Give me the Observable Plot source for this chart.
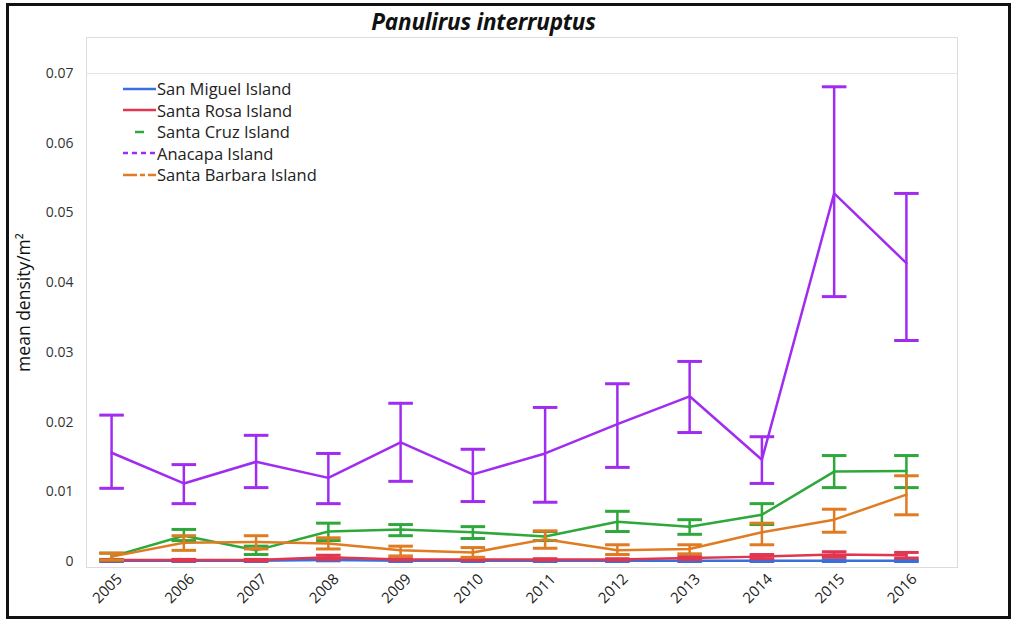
<!DOCTYPE html>
<html><head><meta charset="utf-8">
<script src="https://cdn.jsdelivr.net/npm/d3@7"></script>
<script src="https://cdn.jsdelivr.net/npm/@observablehq/plot@0.6"></script>
<style>
body{margin:0;background:#fff;}
#wrap{position:relative;width:1013px;height:621px;overflow:hidden;background:#fff;}
#border{position:absolute;left:6px;top:3px;width:1005px;height:616px;border:3px solid #111;box-sizing:border-box;pointer-events:none;}
#title{position:absolute;left:0;top:6px;width:967px;text-align:center;font:italic bold 22.5px "Open Sans",sans-serif;color:#111;letter-spacing:-0.2px;}
#legend{position:absolute;left:120px;top:78px;font:16.5px "Open Sans",sans-serif;color:#222;}
#legend .row{height:21.5px;display:flex;align-items:center;}
#legend svg{width:37px;height:10px;flex:none;}
</style></head>
<body>
<div id="wrap">
  <div id="chart"></div>
  <div id="title">Panulirus interruptus</div>
  <div id="legend"></div>
  <div id="border"></div>
</div>
<script>
const years = [2005,2006,2007,2008,2009,2010,2011,2012,2013,2014,2015,2016];
const islands = ["San Miguel Island","Santa Rosa Island","Santa Cruz Island","Anacapa Island","Santa Barbara Island"];
const colors = ["#3b6fdc","#e0364f","#2ea83a","#a02cf0","#e07b22"];
const legendDash = ["none","none","none","5,4","14,3,5,3"];
const yTicks = [0,0.01,0.02,0.03,0.04,0.05,0.06,0.07];

const sanMiguelMean = [0.0001,0.0001,0.0001,0.0002,0.0001,0.0001,0.0001,0.0001,0.0001,0.0001,0.0001,0.0001];
const sanMiguelLow  = [0,0,0,0.0001,0,0,0,0,0,0,0,0];
const sanMiguelHigh = [0.0002,0.0002,0.0002,0.0003,0.0002,0.0002,0.0002,0.0002,0.0002,0.0002,0.0002,0.0002];

const santaRosaMean = [0.0002,0.0002,0.0002,0.0006,0.0003,0.0003,0.0003,0.0003,0.0005,0.0007,0.0010,0.0009];
const santaRosaLow  = [0.0001,0.0001,0.0001,0.0003,0.0002,0.0002,0.0002,0.0002,0.0003,0.0004,0.0006,0.0005];
const santaRosaHigh = [0.0003,0.0003,0.0003,0.0009,0.0004,0.0004,0.0004,0.0004,0.0007,0.0010,0.0014,0.0013];

const santaCruzMean = [0.0007,0.0037,0.0016,0.0043,0.0046,0.0042,0.0036,0.0057,0.0050,0.0067,0.0129,0.0130];
const santaCruzLow  = [0.0002,0.0030,0.0010,0.0030,0.0037,0.0033,0.0030,0.0043,0.0039,0.0053,0.0106,0.0106];
const santaCruzHigh = [0.0012,0.0046,0.0022,0.0055,0.0053,0.0050,0.0043,0.0072,0.0060,0.0083,0.0152,0.0152];

const anacapaMean = [0.0156,0.0112,0.0143,0.0120,0.0171,0.0125,0.0155,0.0197,0.0237,0.0146,0.0528,0.0428];
const anacapaLow  = [0.0105,0.0083,0.0106,0.0083,0.0115,0.0086,0.0085,0.0135,0.0185,0.0112,0.0380,0.0317];
const anacapaHigh = [0.0210,0.0139,0.0181,0.0155,0.0227,0.0161,0.0221,0.0255,0.0287,0.0179,0.0681,0.0528];

const santaBarbaraMean = [0.0007,0.0027,0.0028,0.0026,0.0016,0.0013,0.0032,0.0016,0.0018,0.0042,0.0060,0.0096];
const santaBarbaraLow  = [0.0002,0.0016,0.0018,0.0018,0.0008,0.0006,0.0019,0.0010,0.0011,0.0024,0.0042,0.0067];
const santaBarbaraHigh = [0.0012,0.0037,0.0037,0.0034,0.0022,0.0020,0.0044,0.0024,0.0024,0.0055,0.0075,0.0123];

const series = [
  [sanMiguelMean, sanMiguelLow, sanMiguelHigh],
  [santaRosaMean, santaRosaLow, santaRosaHigh],
  [santaCruzMean, santaCruzLow, santaCruzHigh],
  [anacapaMean, anacapaLow, anacapaHigh],
  [santaBarbaraMean, santaBarbaraLow, santaBarbaraHigh]
];

const capHalf = 0.17; // half cap width in years
const marks = [
  Plot.frame({stroke:"#dcdcdc"}),
  Plot.ruleY([0.07],{stroke:"#e4e4e4"}),
  Plot.axisX({ticks:years, tickFormat:d=>String(d), tickRotate:-45, tickSize:0, tickPadding:5, dx:8, dy:4, label:null, fontSize:15, fill:"#222"}),
  Plot.axisY({ticks:yTicks, tickFormat:d=>d===0?"0":d.toFixed(2), tickSize:0, tickPadding:13, label:"mean density/m²", labelAnchor:"center", labelOffset:69, labelArrow:"none", fontSize:14, fill:"#333"})
];
islands.forEach((name,i)=>{
  const [m,lo,hi] = series[i];
  const rows = years.map((y,j)=>({island:name, year:y, mean:m[j], low:lo[j], high:hi[j]}));
  marks.push(
    Plot.ruleX(rows,{x:"year", y1:"low", y2:"high", stroke:"island", strokeWidth:2.5}),
    Plot.link(rows,{x1:d=>d.year-capHalf, x2:d=>d.year+capHalf, y1:"low", y2:"low", stroke:"island", strokeWidth:3}),
    Plot.link(rows,{x1:d=>d.year-capHalf, x2:d=>d.year+capHalf, y1:"high", y2:"high", stroke:"island", strokeWidth:3}),
    Plot.lineY(rows,{x:"year", y:"mean", stroke:"island", strokeWidth:2.5})
  );
});

const plot = Plot.plot({
  width:1013, height:621,
  marginLeft:86, marginRight:56, marginTop:37, marginBottom:54,
  style:{fontFamily:"Open Sans, sans-serif", fontSize:"14px", color:"#333", background:"#fff"},
  x:{type:"linear", domain:[2004.653,2016.707]},
  y:{domain:[-0.00086,0.07517]},
  color:{domain:islands, range:colors},
  marks
});
document.getElementById("chart").appendChild(plot);
// make y-axis label larger
plot.querySelectorAll("g[aria-label='y-axis label'] text").forEach(t=>{t.style.fontSize="17.5px"; t.setAttribute("fill","#111");});

const leg = document.getElementById("legend");
islands.forEach((name,i)=>{
  const row = document.createElement("div");
  row.className="row";
  const x1 = i===2 ? 15 : 3, x2 = i===2 ? 24 : 36;
  row.innerHTML = `<svg viewBox="0 0 37 10"><line x1="${x1}" y1="5" x2="${x2}" y2="5" stroke="${colors[i]}" stroke-width="2.5" stroke-dasharray="${legendDash[i]}"/></svg><span>${name}</span>`;
  leg.appendChild(row);
});
</script>
</body></html>
